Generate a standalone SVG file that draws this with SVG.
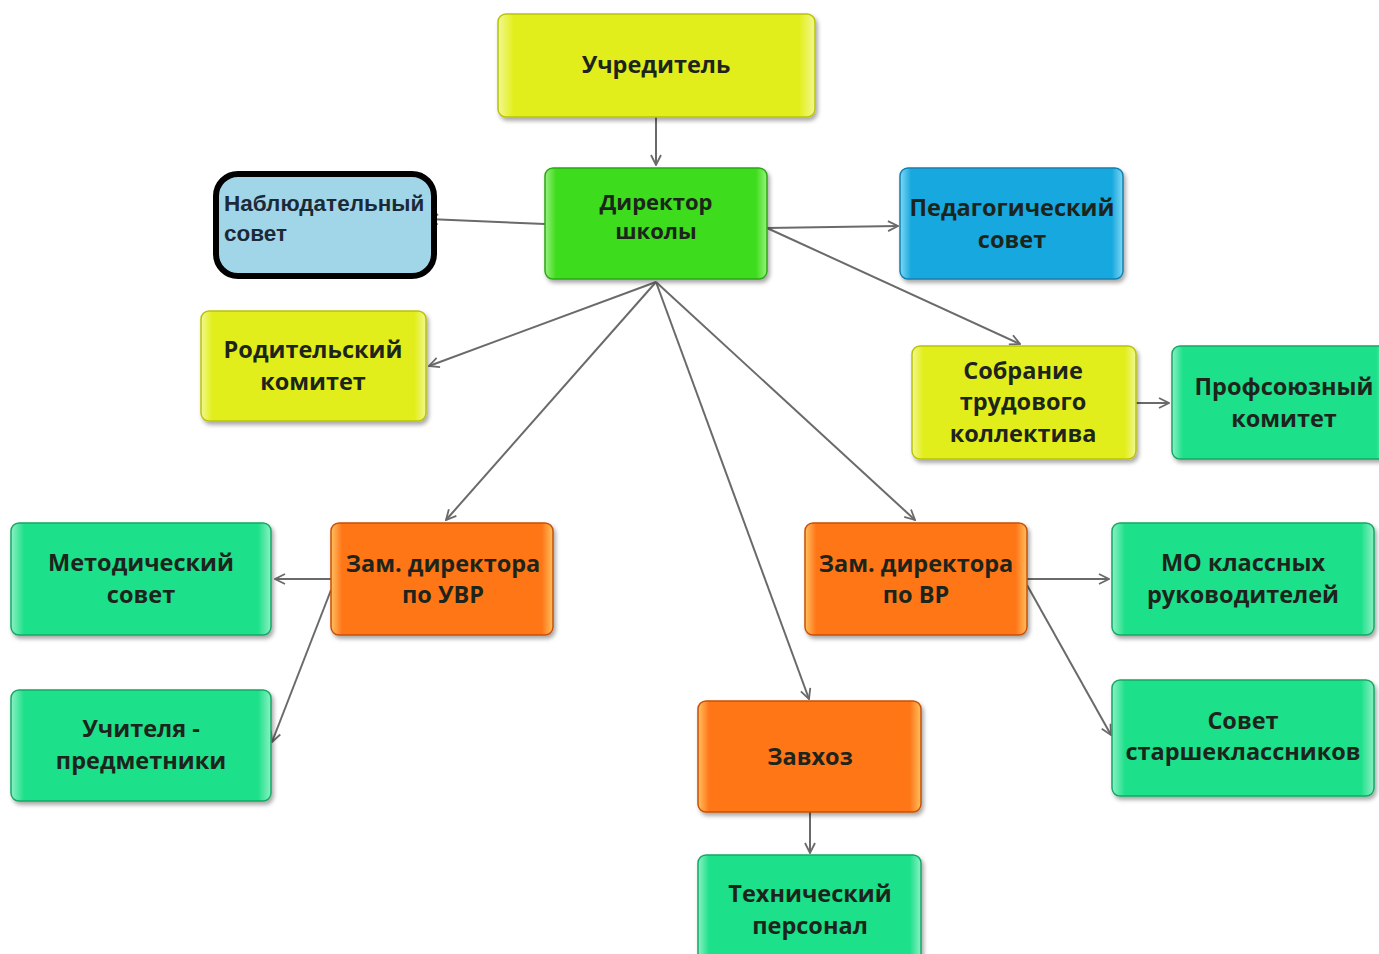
<svg xmlns="http://www.w3.org/2000/svg" width="1379" height="954" viewBox="0 0 1379 954">
<defs>
<style>
.box{stroke-width:1.5;filter:url(#sh)}
.yel{fill:url(#gY);stroke:#b8c20c}
.grn{fill:url(#gG);stroke:#2aa812}
.blu{fill:url(#gB);stroke:#1080b0}
.mnt{fill:url(#gM);stroke:#14a864}
.org{fill:url(#gO);stroke:#c85008}
.t{font-family:"Open Sans","Liberation Sans",sans-serif;font-weight:700;font-size:23.5px;fill:#1c241c;text-anchor:middle}
.td{font-size:22px}
.tn{font-family:"Liberation Sans","DejaVu Sans",sans-serif;font-weight:700;font-size:22.5px;fill:#1c2a38}
.c{fill:none;stroke:#6a6a6a;stroke-width:2;marker-end:url(#ah)}
</style>
<filter id="sh" x="-10%" y="-10%" width="125%" height="130%">
<feDropShadow dx="2" dy="3" stdDeviation="2" flood-color="#000" flood-opacity="0.35"/>
</filter>
<linearGradient id="gY" x1="0" y1="0" x2="1" y2="0">
<stop offset="0" stop-color="#f2f890"/><stop offset="0.05" stop-color="#e2ee1c"/><stop offset="0.95" stop-color="#e2ee1c"/><stop offset="1" stop-color="#f2f890"/>
</linearGradient>
<linearGradient id="gG" x1="0" y1="0" x2="1" y2="0">
<stop offset="0" stop-color="#9af080"/><stop offset="0.05" stop-color="#3edc1c"/><stop offset="0.95" stop-color="#3edc1c"/><stop offset="1" stop-color="#9af080"/>
</linearGradient>
<linearGradient id="gB" x1="0" y1="0" x2="1" y2="0">
<stop offset="0" stop-color="#80d8f4"/><stop offset="0.05" stop-color="#18a8de"/><stop offset="0.95" stop-color="#18a8de"/><stop offset="1" stop-color="#80d8f4"/>
</linearGradient>
<linearGradient id="gM" x1="0" y1="0" x2="1" y2="0">
<stop offset="0" stop-color="#8cf0c4"/><stop offset="0.05" stop-color="#1ee08a"/><stop offset="0.95" stop-color="#1ee08a"/><stop offset="1" stop-color="#8cf0c4"/>
</linearGradient>
<linearGradient id="gO" x1="0" y1="0" x2="1" y2="0">
<stop offset="0" stop-color="#ffc060"/><stop offset="0.05" stop-color="#ff7618"/><stop offset="0.95" stop-color="#ff7618"/><stop offset="1" stop-color="#ffc060"/>
</linearGradient>
<marker id="ah" viewBox="0 0 12 12" refX="11" refY="6" markerWidth="12" markerHeight="12" markerUnits="userSpaceOnUse" orient="auto">
<path d="M1,1 L11,6 L1,11" fill="none" stroke="#6a6a6a" stroke-width="1.8"/>
</marker>
</defs>
<rect width="1379" height="954" fill="#fff"/>

<g id="connectors">
<path class="c" d="M656,117 L656,165"/>
<path class="c" d="M545,224 L428,219"/>
<path class="c" d="M767,228 L898,226"/>
<path class="c" d="M767,228 L1020,344"/>
<path class="c" d="M656,282 L429,366"/>
<path class="c" d="M656,282 L446,520"/>
<path class="c" d="M656,282 L809,699"/>
<path class="c" d="M656,282 L915,520"/>
<path class="c" d="M1136,403 L1169,403"/>
<path class="c" d="M331,579 L275,579"/>
<path class="c" d="M331,590 L272,742"/>
<path class="c" d="M1027,579 L1109,579"/>
<path class="c" d="M1027,585 L1111,735"/>
<path class="c" d="M810,812 L810,853"/>
</g>

<g id="uchreditel">
<rect class="box yel" x="498" y="14" width="317" height="103" rx="8"/>
<text class="t" x="656" y="73">Учредитель</text>
</g>

<g id="direktor">
<rect class="box grn" x="545" y="168" width="222" height="111" rx="8"/>
<text class="t td" x="656" y="210">Директор</text>
<text class="t td" x="656" y="239">школы</text>
</g>

<g id="nabludatelny">
<rect x="216" y="174" width="218" height="102" rx="22" fill="#a0d6e8" stroke="#000" stroke-width="6"/>
<text class="tn" x="224" y="211">Наблюдательный</text>
<text class="tn" x="224" y="241">совет</text>
</g>

<g id="pedsovet">
<rect class="box blu" x="900" y="168" width="223" height="111" rx="8"/>
<text class="t" x="1012" y="216">Педагогический</text>
<text class="t" x="1012" y="248">совет</text>
</g>

<g id="roditelsky">
<rect class="box yel" x="201" y="311" width="225" height="110" rx="8"/>
<text class="t" x="313" y="358">Родительский</text>
<text class="t" x="313" y="390">комитет</text>
</g>

<g id="sobranie">
<rect class="box yel" x="912" y="346" width="224" height="113" rx="8"/>
<text class="t" x="1023" y="379">Собрание</text>
<text class="t" x="1023" y="410">трудового</text>
<text class="t" x="1023" y="442">коллектива</text>
</g>

<g id="profsoyuz">
<rect class="box mnt" x="1172" y="346" width="215" height="113" rx="8"/>
<text class="t" x="1284" y="395">Профсоюзный</text>
<text class="t" x="1284" y="427">комитет</text>
</g>

<g id="metodsovet">
<rect class="box mnt" x="11" y="523" width="260" height="112" rx="8"/>
<text class="t" x="141" y="571">Методический</text>
<text class="t" x="141" y="603">совет</text>
</g>

<g id="uchitelya">
<rect class="box mnt" x="11" y="690" width="260" height="111" rx="8"/>
<text class="t" x="141" y="737">Учителя -</text>
<text class="t" x="141" y="769">предметники</text>
</g>

<g id="zam-uvr">
<rect class="box org" x="331" y="523" width="222" height="112" rx="8"/>
<text class="t" x="443" y="572">Зам. директора</text>
<text class="t" x="443" y="603">по УВР</text>
</g>

<g id="zam-vr">
<rect class="box org" x="805" y="523" width="222" height="112" rx="8"/>
<text class="t" x="916" y="572">Зам. директора</text>
<text class="t" x="916" y="603">по ВР</text>
</g>

<g id="mo-klassnyh">
<rect class="box mnt" x="1112" y="523" width="262" height="112" rx="8"/>
<text class="t" x="1243" y="571">МО классных</text>
<text class="t" x="1243" y="603">руководителей</text>
</g>

<g id="sovet-starsh">
<rect class="box mnt" x="1112" y="680" width="262" height="116" rx="8"/>
<text class="t" x="1243" y="729">Совет</text>
<text class="t" x="1243" y="760">старшеклассников</text>
</g>

<g id="zavhoz">
<rect class="box org" x="698" y="701" width="223" height="111" rx="8"/>
<text class="t" x="810" y="765">Завхоз</text>
</g>

<g id="tehpersonal">
<rect class="box mnt" x="698" y="855" width="223" height="112" rx="8"/>
<text class="t" x="810" y="902">Технический</text>
<text class="t" x="810" y="934">персонал</text>
</g>
</svg>
